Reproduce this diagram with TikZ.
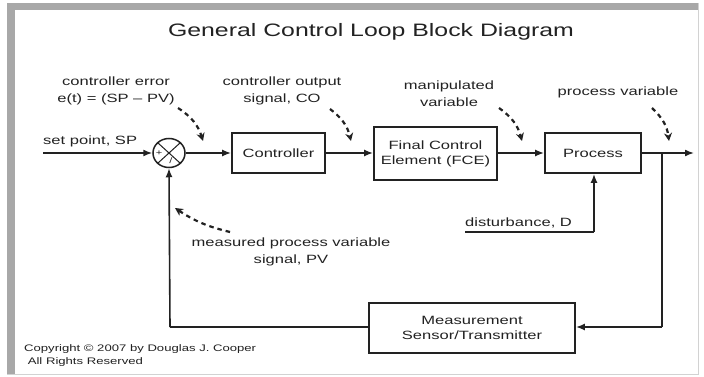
\documentclass[tikz,border=0pt]{standalone}
\usepackage{fontspec}
\setmainfont{Liberation Sans}[FakeStretch=1.38]
\usetikzlibrary{shapes.geometric,arrows.meta}
\definecolor{ink}{HTML}{222222}
\definecolor{framegray}{HTML}{A8A8A8}
\tikzset{
  blk/.style={draw=ink,line width=1.8pt,rectangle,inner sep=0pt,font=\fontsize{12}{15}\selectfont,text=ink,align=center},
  lbl/.style={font=\fontsize{12}{17}\selectfont,text=ink,align=center,inner sep=0pt},
  sig/.style={draw=ink,line width=1.6pt,-{Latex[length=9pt,width=7pt]}},
  wire/.style={draw=ink,line width=1.6pt},
  callout/.style={draw=ink,line width=2.2pt,dash pattern=on 4.5pt off 4pt,-{Stealth[length=8pt,width=8pt]}},
}
\begin{document}
\begin{tikzpicture}[x=1pt,y=-1pt]
\useasboundingbox (0,0) rectangle (704,377);
% frame
\fill[white] (0,0) rectangle (704,377);
\fill[framegray] (7,3) rectangle (15,374);
\fill[framegray] (7,3) rectangle (698,10);
\draw[gray!35,line width=1pt] (698,3) -- (698,374) -- (7,374);

\node[lbl,font=\fontsize{18}{20}\selectfont] (title) at (371,32) {General Control Loop Block Diagram};

% blocks
\node[draw=ink,line width=1.5pt,ellipse,minimum width=32pt,minimum height=29pt,inner sep=0pt] (sum) at (169,153) {};
\draw[ink,line width=1pt] (sum.north west) -- (sum.south east) (sum.north east) -- (sum.south west);
\node[font=\fontsize{8}{8}\selectfont,text=ink,inner sep=0pt] (plus) at (159,153) {+};
\node[font=\fontsize{8}{8}\selectfont,text=ink,inner sep=0pt] (minus) at (171,161) {/};

\node[blk,minimum width=93pt,minimum height=40pt] (ctrl) at (278.5,153) {Controller};
\node[blk,minimum width=123pt,minimum height=53pt] (fce) at (435.5,153.5) {Final Control\\Element (FCE)};
\node[blk,minimum width=96pt,minimum height=40pt] (proc) at (593,153) {Process};
\node[blk,minimum width=206pt,minimum height=50pt] (meas) at (472,328) {Measurement\\Sensor/Transmitter};

% coordinates
\coordinate (sp) at (43,153);
\coordinate (out) at (694,153);
\coordinate (jn) at (662,153);
\coordinate (fbr) at (662,327);
\coordinate (fbl) at (170,327);
\coordinate (dst) at (465,232);
\coordinate (dcr) at (594,232);

% signals
\draw[sig] (sp) -- (sum.west);
\draw[sig] (sum.east) -- (ctrl.west);
\draw[sig] (ctrl.east) -- (fce.west |- ctrl.east);
\draw[sig] (fce.east |- proc.west) -- (proc.west);
\draw[sig] (proc.east) -- (out);
\draw[wire] (jn) -- (fbr);
\draw[sig] (fbr) -- (meas.east |- fbr);
\draw[wire] (meas.west |- fbl) -- (fbl);
\draw[sig] (fbl) -- (sum.south);
\draw[wire] (dst) -- (dcr);
\draw[sig] (dcr) -- (proc.south -| dcr);

% labels
\node[lbl,anchor=base west] (splbl) at (43,145) {set point, SP};
\node[lbl,anchor=base west] (dlbl) at (465,226) {disturbance, D};
\node[lbl] (errlbl) at (116,91) {controller error\\e(t) = (SP – PV)};
\node[lbl] (colbl) at (282,91) {controller output\\signal, CO};
\node[lbl] (mvlbl) at (449,94) {manipulated\\variable};
\node[lbl] (pvlbl) at (618,92) {process variable};
\node[lbl] (pvmlbl) at (291,252) {measured process variable\\signal, PV};
\node[lbl,font=\fontsize{9.5}{13}\selectfont,align=left,anchor=north west] (copy) at (24,344) {Copyright \textcopyright\ 2007 by Douglas J. Cooper\\\ All Rights Reserved};

% callouts
\coordinate (e1) at (178,108); \coordinate (e2) at (203,141);
\coordinate (c1) at (330,109); \coordinate (c2) at (351,141);
\coordinate (m1) at (499,108); \coordinate (m2) at (522,141);
\coordinate (p1) at (652,108); \coordinate (p2) at (669,141);
\coordinate (q1) at (230,232); \coordinate (q2) at (175,208);
\draw[callout] (e1) to[bend left=20] (e2);
\draw[callout] (c1) to[bend left=20] (c2);
\draw[callout] (m1) to[bend left=20] (m2);
\draw[callout] (p1) to[bend left=20] (p2);
\draw[callout] (q1) to[bend left=10] (q2);
\end{tikzpicture}
\end{document}
